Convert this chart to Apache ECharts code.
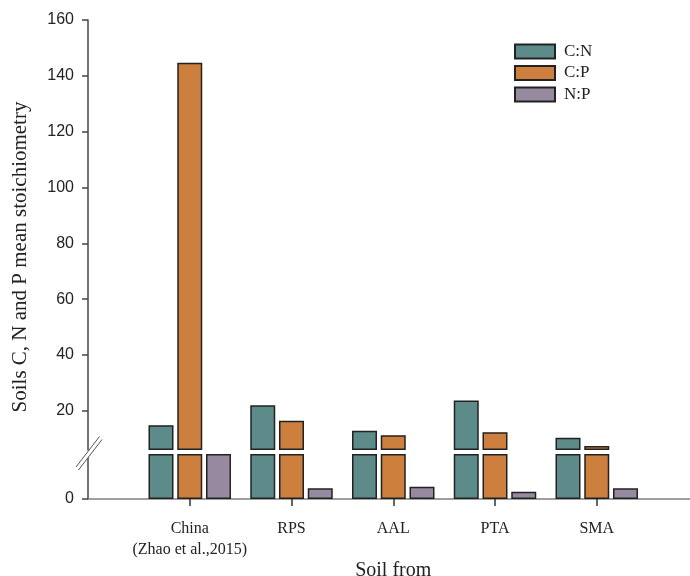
<!DOCTYPE html>
<html><head><meta charset="utf-8">
<script src="https://cdn.jsdelivr.net/npm/echarts@6/dist/echarts.min.js"></script>
<style>html,body{margin:0;padding:0;background:#fff}#c{width:690px;height:576px}</style>
</head><body><div id="c"></div>
<script>
// ---- data ----
const categories = ['China\n(Zhao et al.,2015)', 'RPS', 'AAL', 'PTA', 'SMA'];
const seriesNames = ['C:N', 'C:P', 'N:P'];
const cnValues = [14.9, 22.0, 12.9, 23.7, 10.4];
const cpValues = [144.7, 16.5, 11.3, 12.4, 7.4];
const npValues = [5.8, 1.19, 1.37, 0.81, 1.19];
const upperTicks = [20, 40, 60, 80, 100, 120, 140, 160];
const lowerTicks = [0];
const LOWER_MAX = 5, UPPER_MIN = 6, UPPER_MAX = 160;

const colors = ['#5d8b8a', '#cd7f3e', '#978aa0'];
const serif = '"Liberation Serif", "Times New Roman", serif';
const sans = '"Liberation Sans", Arial, sans-serif';

const axisCats = [''].concat(categories, ['']);
function pad(arr) { return ['-'].concat(arr, ['-']); }
const allValues = [cnValues, cpValues, npValues];

const gridLeft = 88, gridWidth = 610.5;
const series = [];
allValues.forEach((vals, i) => {
  const common = {
    type: 'bar', name: seriesNames[i], barWidth: 25, barGap: '15%', clip: false,
    itemStyle: { color: colors[i], borderColor: '#222', borderWidth: 1.5 },
    emphasis: { disabled: true }, animation: false
  };
  series.push(Object.assign({}, common, {
    xAxisIndex: 0, yAxisIndex: 0,
    data: pad(vals.map(v => v > UPPER_MIN ? v : '-'))
  }));
  series.push(Object.assign({}, common, {
    xAxisIndex: 1, yAxisIndex: 1,
    data: pad(vals.map(v => Math.min(v, LOWER_MAX)))
  }));
});

const chart = echarts.init(document.getElementById('c'), null, { renderer: 'canvas' });
chart.setOption({
  backgroundColor: '#fff',
  animation: false,
  grid: [
    { left: gridLeft, width: gridWidth, top: 20, height: 430, outerBoundsMode: 'none', containLabel: false },
    { left: gridLeft, width: gridWidth, top: 454, height: 45, outerBoundsMode: 'none', containLabel: false }
  ],
  legend: {
    data: seriesNames, orient: 'vertical', left: 514, top: 43, padding: 0,
    itemWidth: 40, itemHeight: 14, itemGap: 4.5, icon: 'rect',
    textStyle: { fontFamily: serif, fontSize: 17, color: '#222', padding: [0, 0, 0, 4] }
  },
  xAxis: [
    { type: 'category', gridIndex: 0, data: axisCats, boundaryGap: false,
      axisLine: { show: false }, axisTick: { show: false }, axisLabel: { show: false } },
    { type: 'category', gridIndex: 1, data: axisCats, boundaryGap: false,
      axisLine: { show: true, lineStyle: { color: '#808080', width: 1.5 } },
      axisTick: { show: true, length: 7, inside: false, lineStyle: { color: '#333', width: 1.5 },
        interval: (idx, val) => val !== '' },
      axisLabel: { interval: 0, margin: 19, fontFamily: serif, fontSize: 16, color: '#222', lineHeight: 21 },
      name: 'Soil from', nameLocation: 'middle', nameGap: 57,
      nameTextStyle: { fontFamily: serif, fontSize: 20, color: '#222' } }
  ],
  yAxis: [
    { type: 'value', gridIndex: 0, min: UPPER_MIN, max: UPPER_MAX, startValue: UPPER_MIN,
      splitLine: { show: false },
      axisLine: { show: true, lineStyle: { color: '#444', width: 1.5 } },
      axisTick: { show: true, length: 6, customValues: upperTicks, lineStyle: { color: '#444', width: 1.5 } },
      axisLabel: { customValues: upperTicks, margin: 14, fontFamily: sans, fontSize: 16, color: '#222' } },
    { type: 'value', gridIndex: 1, min: 0, max: LOWER_MAX,
      splitLine: { show: false },
      axisLine: { show: true, lineStyle: { color: '#444', width: 1.5 } },
      axisTick: { show: true, length: 6, customValues: lowerTicks, lineStyle: { color: '#444', width: 1.5 } },
      axisLabel: { customValues: lowerTicks, margin: 14, fontFamily: sans, fontSize: 16, color: '#222' } }
  ],
  series: series,
  graphic: [
    { type: 'polygon', z: 100, shape: { points: [[76, 467], [99.5, 436.5], [102, 439.5], [78.5, 470]] },
      style: { fill: '#fff', stroke: null } },
    { type: 'line', z: 101, shape: { x1: 76, y1: 467, x2: 99.5, y2: 436.5 }, style: { stroke: '#555', lineWidth: 1 } },
    { type: 'line', z: 101, shape: { x1: 78.5, y1: 470, x2: 102, y2: 439.5 }, style: { stroke: '#555', lineWidth: 1 } },
    { type: 'text', z: 100, x: 20, y: 257, rotation: Math.PI / 2,
      style: { text: 'Soils C, N and P mean stoichiometry', fontFamily: serif, fontSize: 21, fill: '#222',
        textAlign: 'center', textVerticalAlign: 'middle' } }
  ]
});
</script></body></html>
